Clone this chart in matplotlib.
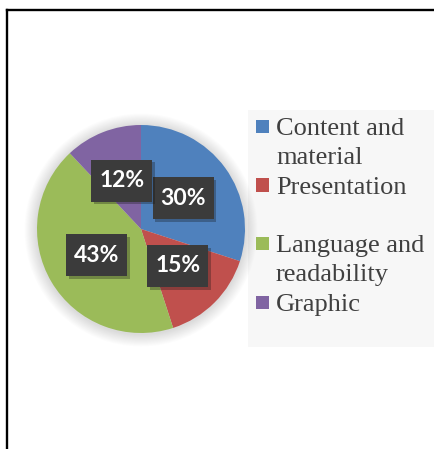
import matplotlib
matplotlib.use("Agg")
import matplotlib.pyplot as plt
import matplotlib.patheffects as pe
from matplotlib.patches import Rectangle, Circle
from matplotlib.lines import Line2D
from matplotlib.transforms import ScaledTranslation

categories = ["Content and\nmaterial", "Presentation", "Language and\nreadability", "Graphic"]
values = [30, 15, 43, 12]
colors = ["#4F81BD", "#C0504D", "#9BBB59", "#8064A2"]

W, H = 435, 449
fig = plt.figure(figsize=(W / 100, H / 100), dpi=100)
fig.patch.set_facecolor("white")

# frame (only top and left edges visible in the crop)
fig.add_artist(Line2D([7 / W, 7 / W], [0, 1 - 9.5 / H], color="black", lw=1.7,
                      transform=fig.transFigure))
fig.add_artist(Line2D([7 / W, 1], [1 - 9.5 / H, 1 - 9.5 / H], color="black", lw=1.7,
                      transform=fig.transFigure))

# legend background
fig.add_artist(Rectangle((248 / W, 1 - 347 / H), (W - 248) / W, (347 - 110) / H,
                         transform=fig.transFigure, fc="#F7F7F7", ec="none", zorder=0))

# pie
cx, cy, r = 141, 229, 104
ax = fig.add_axes([(cx - r) / W, (H - cy - r) / H, 2 * r / W, 2 * r / H])
ax.set_axis_off()

# soft shadow around the pie
for k in range(12):
    ax.add_patch(Circle((0.0, -0.01), 1.0 + 0.01 * (k + 1), fc="#000000", ec="none",
                        alpha=0.01, clip_on=False, zorder=0))

wedges, texts, autotexts = ax.pie(values, colors=colors, startangle=90, counterclock=False,
                                  radius=1.0, autopct=lambda p: f"{p:.0f}%",
                                  pctdistance=0.5,
                                  wedgeprops=dict(linewidth=0),
                                  textprops=dict(color="white", fontsize=16.5,
                                                 fontweight="bold", family="Lato"))
for w in wedges:
    w.set_zorder(2)
for t in autotexts:
    t.set_zorder(6)
    x, y = t.get_position()
    box = Rectangle((-30.5 / 100, -21 / 100), 61 / 100, 42 / 100, fc="#3B3B3B", ec="none",
                    transform=fig.dpi_scale_trans + ScaledTranslation(x, y, ax.transData),
                    zorder=5, clip_on=False)
    box.set_path_effects([pe.SimplePatchShadow(offset=(2, -2), alpha=0.3), pe.Normal()])
    ax.add_patch(box)
ax.set_xlim(-1, 1)
ax.set_ylim(-1, 1)

# legend
x_mark, x_text = 256, 276
first_base, step, line_h = 135, 58.5, 29.5
for i, (lab, col) in enumerate(zip(categories, colors)):
    base = first_base + i * step
    fig.add_artist(Rectangle((x_mark / W, 1 - (base - 2) / H), 13 / W, 13 / H,
                             transform=fig.transFigure, fc=col, ec="none"))
    for j, line in enumerate(lab.split("\n")):
        fig.text(x_text / W, 1 - (base + j * line_h) / H, line, fontsize=19,
                 family="Liberation Serif", color="#404040", va="baseline", ha="left")

fig.savefig("out.png", dpi=100)
